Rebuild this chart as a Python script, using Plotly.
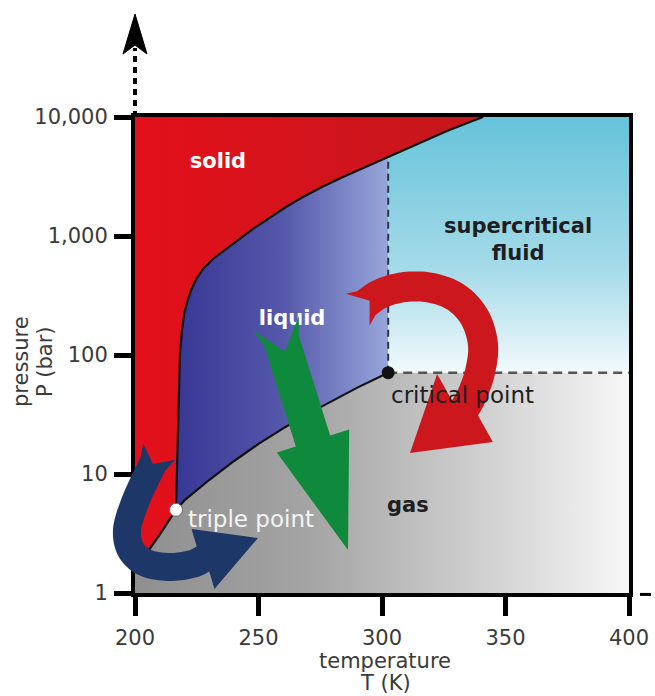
import numpy as np
import plotly.graph_objects as go

# ---------------- data ----------------
T_TICKS = [200, 250, 300, 350, 400]
P_TICKS = [1, 10, 100, 1000, 10000]
P_TICK_TEXT = ["1", "10", "100", "1,000", "10,000"]

# melting curve (solid / liquid and solid / supercritical boundary)
MELT_T = [216.6, 217.0, 217.2, 217.6, 218.2, 219.0, 220.0, 221.4, 223.0, 225.0, 227.8,
          231.6, 236.4, 242.0, 248.4, 254.7, 261.1, 268.0, 276.1, 284.2, 292.3, 302.5,
          312.6, 326.3, 335.6, 340.9]
MELT_P = [5.0, 10.8, 23.4, 50.8, 100, 162, 226, 293, 362, 441, 536,
          641, 767, 932, 1170, 1430, 1754, 2128, 2608, 3133, 3726, 4592,
          5702, 7621, 9080, 10000]
# vaporisation curve (liquid / gas)
VAP_T = [216.6, 220, 230, 240, 250, 260, 270, 280, 290, 302.5]
VAP_P = [5.0, 6.0, 8.9, 12.8, 17.9, 24.2, 32.0, 41.6, 53.2, 71.0]
# sublimation curve (solid / gas)
SUB_T = [200.0, 205.0, 210.0, 216.6]
SUB_P = [1.6, 2.2, 3.1, 5.0]

TRIPLE_T, TRIPLE_P = 216.6, 5.0
CRIT_T, CRIT_P = 302.5, 71.0
T_MIN, T_MAX = 200, 400
P_MIN, P_MAX = 1, 10000

# ---------------- layout geometry ----------------
FIG_W, FIG_H = 655, 696
M_L, M_R, M_T, M_B = 135, 26, 117, 103
PW = FIG_W - M_L - M_R
PH = FIG_H - M_T - M_B
FONT = "DejaVu Sans"


def catmull(pts, n=10):
    P = np.array(pts, float)
    P = np.vstack([P[0], P, P[-1]])
    out = []
    for i in range(1, len(P) - 2):
        p0, p1, p2, p3 = P[i - 1], P[i], P[i + 1], P[i + 2]
        for t in np.linspace(0, 1, n, endpoint=False):
            t2, t3 = t * t, t * t * t
            out.append(0.5 * (2 * p1 + (-p0 + p2) * t + (2 * p0 - 5 * p1 + 4 * p2 - p3) * t2
                              + (-p0 + 3 * p1 - 3 * p2 + p3) * t3))
    out.append(P[-2])
    return np.array(out)


def arrow_path(center, hw, tip, head_hw, fin_hw, notch, fin_back=0.0):
    """thick arrow outline (figure pixels) -> SVG path in paper coordinates"""
    c = catmull(center)
    d = np.gradient(c, axis=0)
    d /= np.linalg.norm(d, axis=1)[:, None]
    n = np.stack([-d[:, 1], d[:, 0]], 1)
    left, right = c + n * hw, c - n * hw
    s = np.concatenate([[0], np.cumsum(np.linalg.norm(np.diff(c, axis=0), axis=1))])
    k = int(np.searchsorted(s, 8))
    base = c[-1]
    tip = np.array(tip, float)
    hd = (tip - base) / np.linalg.norm(tip - base)
    hn = np.array([-hd[1], hd[0]])
    bl, br = base + hn * head_hw, base - hn * head_hw
    fl = c[0] + n[0] * fin_hw - d[0] * fin_back
    fr = c[0] - n[0] * fin_hw - d[0] * fin_back
    nt = c[0] + d[0] * notch
    poly = np.array([nt, fl] + list(left[k:]) + [bl, tip, br] + list(right[k:][::-1]) + [fr])
    xp = (poly[:, 0] - M_L) / PW
    yp = (M_T + PH - poly[:, 1]) / PH
    return "M " + " L ".join(f"{a:.5f},{b:.5f}" for a, b in zip(xp, yp)) + " Z"


def py_paper(py):
    return (M_T + PH - py) / PH


def px_paper(px):
    return (px - M_L) / PW


fig = go.Figure()

# ---------------- phase regions ----------------
ic = MELT_T.index(CRIT_T)

# solid
sx = [SUB_T[0], T_MIN, T_MIN] + MELT_T[::-1] + SUB_T[::-1][1:]
sy = [SUB_P[0], P_MAX, P_MAX] + MELT_P[::-1] + SUB_P[::-1][1:]
fig.add_trace(go.Scatter(x=sx, y=sy, mode="none", fill="toself",
                         fillgradient=dict(type="horizontal",
                                           colorscale=[[0, "#e3101a"], [1, "#c4171d"]]),
                         hoverinfo="skip"))
# liquid
lx = MELT_T[:ic + 1] + VAP_T[::-1]
ly = MELT_P[:ic + 1] + VAP_P[::-1]
fig.add_trace(go.Scatter(x=lx, y=ly, mode="none", fill="toself",
                         fillgradient=dict(type="horizontal",
                                           colorscale=[[0, "#393795"], [0.5, "#5457aa"],
                                                       [1, "#97a6da"]]),
                         hoverinfo="skip"))
# supercritical fluid
fx = [CRIT_T, T_MAX, T_MAX] + MELT_T[ic:][::-1]
fy = [CRIT_P, CRIT_P, P_MAX] + MELT_P[ic:][::-1]
fig.add_trace(go.Scatter(x=fx, y=fy, mode="none", fill="toself",
                         fillgradient=dict(type="vertical",
                                           colorscale=[[0, "#f3fafc"], [0.4, "#a6dbe9"],
                                                       [1, "#66c3da"]]),
                         hoverinfo="skip"))
# gas
gx = [T_MIN, T_MAX, T_MAX] + VAP_T[::-1] + SUB_T[::-1][1:] + [T_MIN]
gy = [P_MIN, P_MIN, CRIT_P] + VAP_P[::-1] + SUB_P[::-1][1:] + [P_MIN]
fig.add_trace(go.Scatter(x=gx, y=gy, mode="none", fill="toself",
                         fillgradient=dict(type="horizontal",
                                           colorscale=[[0, "#8f8f8f"], [0.35, "#a4a4a4"],
                                                       [0.75, "#d6d6d6"], [1, "#f7f7f7"]]),
                         hoverinfo="skip"))

# ---------------- boundaries ----------------
fig.add_trace(go.Scatter(x=[CRIT_T, CRIT_T], y=[CRIT_P, MELT_P[ic]], mode="lines",
                         line=dict(color="#2b3550", width=2, dash="7px,5px"), hoverinfo="skip"))
fig.add_trace(go.Scatter(x=[CRIT_T, T_MAX], y=[CRIT_P, CRIT_P], mode="lines",
                         line=dict(color="#555555", width=2.5, dash="9px,6px"), hoverinfo="skip"))
for xs, ys in ((MELT_T, MELT_P), (VAP_T, VAP_P), (SUB_T, SUB_P)):
    fig.add_trace(go.Scatter(x=xs, y=ys, mode="lines",
                             line=dict(color="#111111", width=2.2), hoverinfo="skip"))

fig.add_trace(go.Scatter(x=[CRIT_T], y=[CRIT_P], mode="markers",
                         marker=dict(color="#111111", size=13), hoverinfo="skip"))
fig.add_trace(go.Scatter(x=[TRIPLE_T], y=[TRIPLE_P], mode="markers",
                         marker=dict(color="white", size=13, line=dict(color="#666666", width=1)),
                         hoverinfo="skip"))

# ---------------- region labels (below the arrows) ----------------
fig.add_trace(go.Scatter(x=[233.6, 263.6], y=[4100, 197], mode="text",
                         text=["<b>solid</b>", "<b>liquid</b>"],
                         textfont=dict(family=FONT, size=21, color="white"), hoverinfo="skip"))
fig.add_trace(go.Scatter(x=[355.1, 310.5], y=[908, 5.28], mode="text",
                         text=["<b>supercritical<br>fluid</b>", "<b>gas</b>"],
                         textfont=dict(family=FONT, size=21, color="#1e1e1e"), hoverinfo="skip"))

# ---------------- process arrows (drawn over the plot, may pass the axis) ----------------
ARROWS = [
    (arrow_path([(276, 323), (313, 441)], hw=18, tip=(348, 550), head_hw=38,
                fin_hw=24, notch=30), "#0f8a3c"),
    (arrow_path([(360, 308), (380, 294), (405, 287), (432, 288), (457, 298),
                 (475, 318), (483, 345), (480, 372), (472, 395), (465, 408)],
                hw=15, tip=(410, 453), head_hw=44, fin_hw=20, notch=12, fin_back=3), "#cc171c"),
    (arrow_path([(157, 456), (145, 480), (134, 505), (127, 530), (131, 550),
                 (146, 563), (170, 567), (192, 564), (203, 559)],
                hw=14, tip=(258, 538), head_hw=32, fin_hw=18, notch=9, fin_back=5), "#1d3868"),
]
for path, col in ARROWS:
    fig.add_shape(type="path", xref="paper", yref="paper", path=path, fillcolor=col,
                  line=dict(width=0), layer="above")

# ---------------- point labels (above the arrows) ----------------
fig.add_annotation(x=332.4, y=np.log10(46.1), xref="x", yref="y", text="critical point",
                   showarrow=False, font=dict(family=FONT, size=23, color="#1e1e1e"))
fig.add_annotation(x=247.0, y=np.log10(4.19), xref="x", yref="y", text="triple point",
                   showarrow=False, font=dict(family=FONT, size=23, color="#f4f4f4"))

# ---------------- axes ----------------
fig.update_xaxes(range=[T_MIN, T_MAX], tickvals=T_TICKS, ticks="outside", ticklen=19,
                 tickwidth=5, tickcolor="black", showline=True, linewidth=4, linecolor="black",
                 mirror=True, showgrid=False, zeroline=False, automargin=False,
                 tickfont=dict(family=FONT, size=21, color="#3a3a3a"), ticklabelstandoff=4)
fig.update_yaxes(type="log", range=[0, 4], tickvals=P_TICKS, ticktext=P_TICK_TEXT,
                 ticks="outside", ticklen=17, tickwidth=5, tickcolor="black", showline=True,
                 linewidth=4, linecolor="black", mirror=True, showgrid=False, zeroline=False,
                 automargin=False,
                 tickfont=dict(family=FONT, size=21, color="#3a3a3a"), ticklabelstandoff=2)

# axis titles (one annotation per line to control spacing)
TITLE_FONT = dict(family=FONT, size=21, color="#3a3a3a")
fig.add_annotation(text="temperature", xref="paper", yref="paper", x=px_paper(385),
                   y=py_paper(661), xanchor="center", yanchor="middle", showarrow=False,
                   font=TITLE_FONT)
fig.add_annotation(text="T (K)", xref="paper", yref="paper", x=px_paper(385),
                   y=py_paper(683), xanchor="center", yanchor="middle", showarrow=False,
                   font=TITLE_FONT)
fig.add_annotation(text="pressure", xref="paper", yref="paper", x=px_paper(21),
                   y=py_paper(362), xanchor="center", yanchor="middle", textangle=-90,
                   showarrow=False, font=TITLE_FONT)
fig.add_annotation(text="P (bar)", xref="paper", yref="paper", x=px_paper(45),
                   y=py_paper(362), xanchor="center", yanchor="middle", textangle=-90,
                   showarrow=False, font=TITLE_FONT)

# dashed continuation of the pressure axis with arrow head, and of the temperature axis
fig.add_shape(type="line", xref="paper", yref="paper", x0=0, x1=0, y0=1.0,
              y1=py_paper(48), line=dict(color="black", width=4, dash="6px,5px"))
tipy, barby, notchy = py_paper(14), py_paper(54), py_paper(45)
bw = 12 / PW
fig.add_shape(type="path", xref="paper", yref="paper",
              path=f"M 0,{tipy} L {bw},{barby} L 0,{notchy} L {-bw},{barby} Z",
              fillcolor="black", line=dict(color="black", width=1))
fig.add_shape(type="line", xref="paper", yref="paper", x0=px_paper(640),
              x1=px_paper(651), y0=-0.003, y1=-0.003, line=dict(color="black", width=3))

fig.update_layout(width=FIG_W, height=FIG_H, showlegend=False,
                  margin=dict(l=M_L, r=M_R, t=M_T, b=M_B, autoexpand=False),
                  paper_bgcolor="white", plot_bgcolor="white",
                  font=dict(family=FONT))

fig.write_html("out.html", config={"displayModeBar": False},
               post_script="document.body.style.margin='0px';")
